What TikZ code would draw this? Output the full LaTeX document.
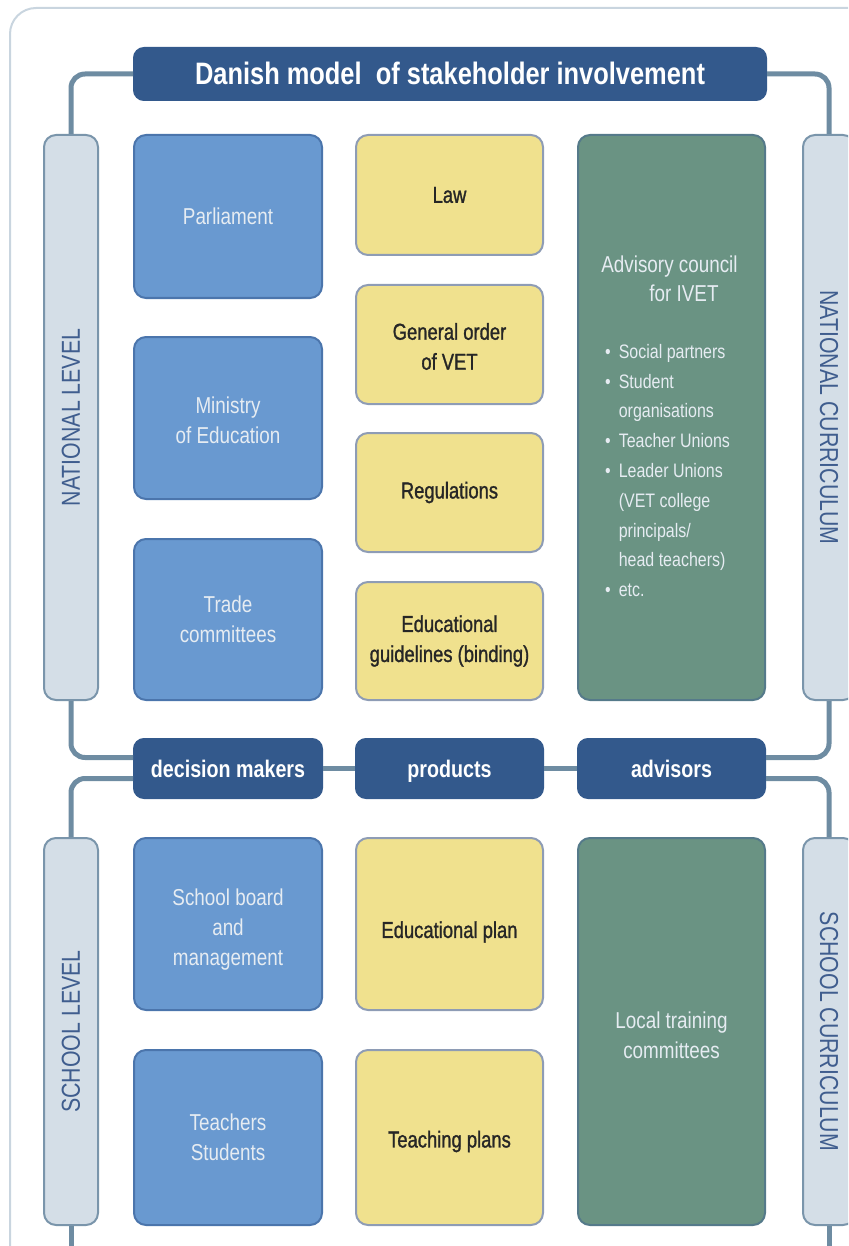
\documentclass[tikz,border=0pt]{standalone}
\usepackage{fontspec}
\setmainfont{Liberation Sans}[FakeStretch=0.82]
\newfontfamily\mediumfont{Liberation Sans}[FakeStretch=0.80, FakeBold=1.2]
\usepackage{xcolor}
\usetikzlibrary {positioning, calc}

\definecolor{titleblue}{HTML}{33598C}
\definecolor{linkblue}{HTML}{6E8CA2}
\definecolor{barfill}{HTML}{D4DEE7}
\definecolor{barline}{HTML}{7A95AB}
\definecolor{bluefill}{HTML}{6999D0}
\definecolor{blueline}{HTML}{4B75AC}
\definecolor{yellowfill}{HTML}{F0E18E}
\definecolor{yellowline}{HTML}{8E9CB5}
\definecolor{greenfill}{HTML}{6A9383}
\definecolor{greenline}{HTML}{557A8A}
\definecolor{framegray}{HTML}{C9D5DF}
\definecolor{labelblue}{HTML}{3F5D8E}
\definecolor{palewhite}{HTML}{E6ECF2}
\definecolor{darktext}{HTML}{262626}

\tikzset{
    box/.style={rectangle, rounded corners=12pt, line width=2pt, align=center,
        inner sep=0pt, font=\fontsize{23}{30}\selectfont},
    decider/.style={box, fill=bluefill, draw=blueline, text=palewhite,
        minimum width=188pt},
    product/.style={box, fill=yellowfill, draw=yellowline, text=darktext,
        minimum width=187pt, font=\mediumfont\fontsize{23}{30}\selectfont},
    advisor/.style={box, fill=greenfill, draw=greenline, minimum width=187pt},
    header/.style={box, fill=titleblue, draw=titleblue, text=white,
        rounded corners=10pt, text height=20pt, text depth=2pt,
        font=\bfseries\fontsize{24}{28}\selectfont},
    levelbar/.style={box, fill=barfill, draw=barline, text=labelblue,
        rounded corners=12pt, font=\fontsize{26}{28}\selectfont},
    boxtext/.style={align=center, inner sep=0pt, font=\fontsize{23}{30}\selectfont},
    producttext/.style={boxtext, text=darktext, font=\mediumfont\fontsize{23}{30}\selectfont},
    link/.style={draw=linkblue, line width=5pt, rounded corners=14pt},
    advtext/.style={text=palewhite, align=left, inner sep=0pt}
}

\begin{document}
\begin{tikzpicture}[x=1pt, y=-1pt]
\useasboundingbox (0,0) rectangle (848,1246);
\clip (0,0) rectangle (848,1246);
% outer frame
\draw[framegray, line width=2pt, rounded corners=26pt] (10,8) rectangle (900,1300);

% title
\node[header, minimum width=632pt, minimum height=52pt, text height=25pt, text depth=3pt,
    font=\bfseries\fontsize{31}{34}\selectfont] (title) at (450,74)
    {Danish model\ \ of stakeholder involvement};

% national level
\node[levelbar, minimum width=54pt, minimum height=565pt] (natL) at (71,417.5)
    {\rotatebox{90}{NATIONAL LEVEL}};
\node[levelbar, minimum width=52pt, minimum height=565pt] (natR) at (829,417.5)
    {\rotatebox{-90}{NATIONAL CURRICULUM}};

\node[decider, minimum height=163pt] (parl) at (228,216.5) {Parliament};
\node[decider, minimum height=162pt] (min) at (228,418) {};
\node[boxtext, text=palewhite] (mintext) at ($(min)+(0,2)$) {Ministry\\of Education};
\node[decider, minimum height=161pt] (trade) at (228,619.5) {Trade\\committees};

\node[product, minimum height=120pt] (law) at (449.5,195) {Law};
\node[product, minimum height=119pt] (order) at (449.5,344.5) {};
\node[producttext] (ordertext) at ($(order)+(0,2)$) {General order\\of VET};
\node[product, minimum height=119pt] (reg) at (449.5,492.5) {Regulations};
\node[product, minimum height=118pt] (guide) at (449.5,641) {Educational\\guidelines (binding)};

\node[advisor, minimum height=565pt] (council) at (671.5,417.5) {};
\node[advtext, anchor=north, font=\fontsize{23}{29}\selectfont] (counciltitle)
    at ($(council.north)+(0,122)$) {\hspace*{-4pt}Advisory council\\\hspace*{44pt}for IVET};
\node[advtext, anchor=north west, font=\fontsize{19.5}{29.8}\selectfont] (councillist)
    at (605,344) {%
    \textbullet\hspace{8pt}Social partners\\
    \textbullet\hspace{8pt}Student\\
    \phantom{\textbullet}\hspace{8pt}organisations\\
    \textbullet\hspace{8pt}Teacher Unions\\
    \textbullet\hspace{8pt}Leader Unions\\
    \phantom{\textbullet}\hspace{8pt}(VET college\\
    \phantom{\textbullet}\hspace{8pt}principals/\\
    \phantom{\textbullet}\hspace{8pt}head teachers)\\
    \textbullet\hspace{8pt}etc.};

% roles
\node[header, minimum width=188pt, minimum height=59pt] (dm) at (228,768.5) {decision makers};
\node[header, minimum width=187pt, minimum height=59pt] (prod) at (449.5,768.5) {products};
\node[header, minimum width=187pt, minimum height=59pt] (advs) at (671.5,768.5) {advisors};

% school level
\node[levelbar, minimum width=54pt, minimum height=387pt] (schL) at (71,1031.5)
    {\rotatebox{90}{SCHOOL LEVEL}};
\node[levelbar, minimum width=52pt, minimum height=387pt] (schR) at (829,1031.5)
    {\rotatebox{-90}{SCHOOL CURRICULUM}};

\node[decider, minimum height=172pt] (board) at (228,924) {};
\node[boxtext, text=palewhite] (boardtext) at ($(board)+(0,6)$) {School board\\and\\management};
\node[decider, minimum height=175pt] (people) at (228,1137.5) {Teachers\\Students};

\node[product, minimum height=172pt] (eplan) at (449.5,924) {};
\node[producttext] (eplantext) at ($(eplan)+(0,8)$) {Educational plan};
\node[product, minimum height=175pt] (tplan) at (449.5,1137.5) {};
\node[producttext] (tplantext) at ($(tplan)+(0,4)$) {Teaching plans};

\node[advisor, minimum height=387pt] (local) at (671.5,1031.5) {};
\node[boxtext, text=palewhite] (localtext) at ($(local)+(0,4)$) {Local training\\committees};

\coordinate (endL) at (71,1260);
\coordinate (endR) at (829,1260);

% connectors
\draw[link] (title.west) -| (natL.north);
\draw[link] (title.east) -| (natR.north);
\draw[link] (natL.south) |- ($(dm.west)+(0,-11)$);
\draw[link] ($(dm.west)+(0,10)$) -| (schL.north);
\draw[link] (natR.south) |- ($(advs.east)+(0,-11)$);
\draw[link] ($(advs.east)+(0,10)$) -| (schR.north);
\draw[link] (dm) -- (prod);
\draw[link] (prod) -- (advs);
\draw[link] (schL.south) -- (endL);
\draw[link] (schR.south) -- (endR);
\end{tikzpicture}
\end{document}
